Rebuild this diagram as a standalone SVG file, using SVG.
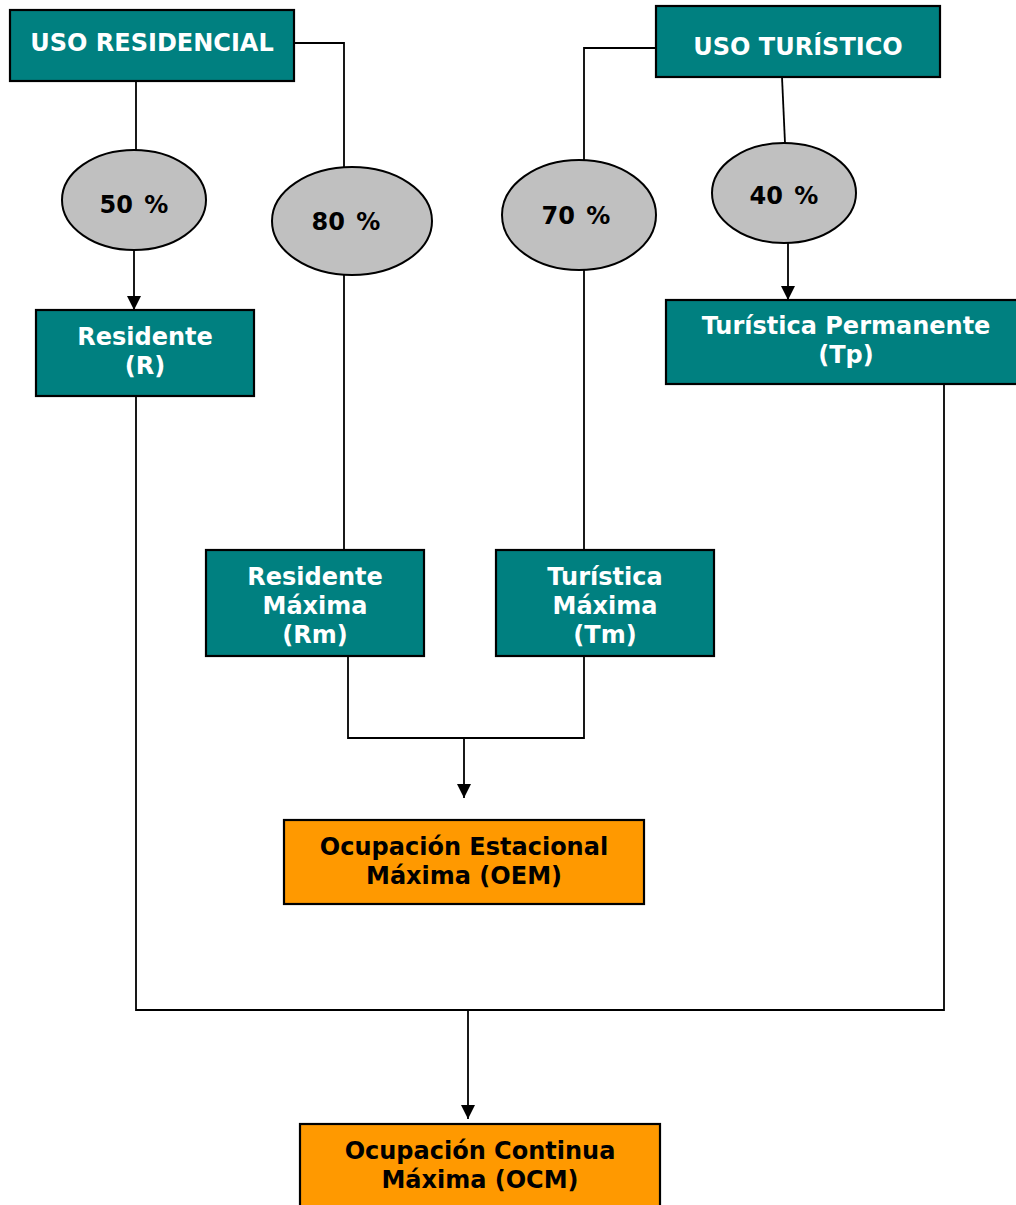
<svg xmlns="http://www.w3.org/2000/svg" width="1016" height="1205" viewBox="0 0 1016 1205">
<defs>
<marker id="arr" markerWidth="14" markerHeight="14" refX="14" refY="7" orient="auto" markerUnits="userSpaceOnUse" viewBox="0 0 14 14">
<path d="M0,0 L14,7 L0,14 z" fill="#000"/>
</marker>
<style>
.teal{fill:#008080;stroke:#000;stroke-width:2.2}
.orange{fill:#FF9900;stroke:#000;stroke-width:2.2}
.oval{fill:#C0C0C0;stroke:#000;stroke-width:2}
.c{fill:none;stroke:#000;stroke-width:1.8}
text{font-family:"DejaVu Sans",Verdana,sans-serif;font-weight:bold;font-size:24px;text-anchor:middle}
.w{fill:#fff}
.k{fill:#000}
.p{word-spacing:3px}
</style>
</defs>
<rect width="1016" height="1205" fill="#fff"/>
<g id="connectors">
<path class="c" d="M136,81 V151"/>
<path class="c" d="M134,250 V310" marker-end="url(#arr)"/>
<path class="c" d="M294,43 H344 V167"/>
<path class="c" d="M344,275 V550"/>
<path class="c" d="M656,48 H584 V160"/>
<path class="c" d="M584,270 V550"/>
<path class="c" d="M782,77 L785,143"/>
<path class="c" d="M788,243 V300" marker-end="url(#arr)"/>
<path class="c" d="M348,656 V738 H584 V656"/>
<path class="c" d="M464,738 V798" marker-end="url(#arr)"/>
<path class="c" d="M136,396 V1010 H944 V384"/>
<path class="c" d="M468,1010 V1119" marker-end="url(#arr)"/>
</g>
<g id="uso-residencial">
<rect class="teal" x="10" y="10" width="284" height="71"/>
<text class="w" x="152" y="51">USO RESIDENCIAL</text>
</g>
<g id="uso-turistico">
<rect class="teal" x="656" y="6" width="284" height="71"/>
<text class="w" x="798" y="55">USO TURÍSTICO</text>
</g>
<g id="p50">
<ellipse class="oval" cx="134" cy="200" rx="72" ry="50"/>
<text class="k p" x="134" y="213">50 %</text>
</g>
<g id="p80">
<ellipse class="oval" cx="352" cy="221" rx="80" ry="54"/>
<text class="k p" x="346" y="230">80 %</text>
</g>
<g id="p70">
<ellipse class="oval" cx="579" cy="215" rx="77" ry="55"/>
<text class="k p" x="576" y="224">70 %</text>
</g>
<g id="p40">
<ellipse class="oval" cx="784" cy="193" rx="72" ry="50"/>
<text class="k p" x="784" y="204">40 %</text>
</g>
<g id="residente">
<rect class="teal" x="36" y="310" width="218" height="86"/>
<text class="w" x="145" y="345">Residente</text>
<text class="w" x="145" y="374">(R)</text>
</g>
<g id="turistica-permanente">
<rect class="teal" x="666" y="300" width="360" height="84"/>
<text class="w" x="846" y="334">Turística Permanente</text>
<text class="w" x="846" y="363">(Tp)</text>
</g>
<g id="residente-maxima">
<rect class="teal" x="206" y="550" width="218" height="106"/>
<text class="w" x="315" y="585">Residente</text>
<text class="w" x="315" y="614">Máxima</text>
<text class="w" x="315" y="643">(Rm)</text>
</g>
<g id="turistica-maxima">
<rect class="teal" x="496" y="550" width="218" height="106"/>
<text class="w" x="605" y="585">Turística</text>
<text class="w" x="605" y="614">Máxima</text>
<text class="w" x="605" y="643">(Tm)</text>
</g>
<g id="oem">
<rect class="orange" x="284" y="820" width="360" height="84"/>
<text class="k" x="464" y="855">Ocupación Estacional</text>
<text class="k" x="464" y="884">Máxima (OEM)</text>
</g>
<g id="ocm">
<rect class="orange" x="300" y="1124" width="360" height="90"/>
<text class="k" x="480" y="1159">Ocupación Continua</text>
<text class="k" x="480" y="1188">Máxima (OCM)</text>
</g>
</svg>
